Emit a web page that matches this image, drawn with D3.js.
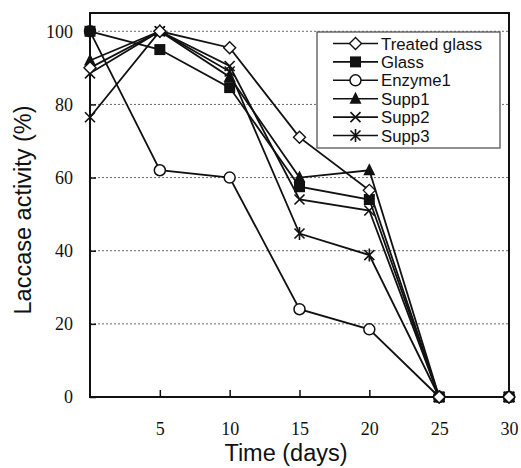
<!DOCTYPE html>
<html><head><meta charset="utf-8">
<script src="https://cdn.jsdelivr.net/npm/d3@7"></script>
<style>body{margin:0;background:#fff}</style>
</head><body>
<svg id="c" width="521" height="468"></svg>
<script>
const days = [0, 5, 10, 15, 20, 25, 30];
const seriesNames = ["Treated glass", "Glass", "Enzyme1", "Supp1", "Supp2", "Supp3"];
const treatedGlass = [90, 100, 95.5, 71, 56.5, 0, 0];
const glass = [100, 95, 84.6, 57.5, 54, 0, 0];
const enzyme1 = [100, 62, 60, 24, 18.5, 0, 0];
const supp1 = [92, 100, 87.5, 60, 62, 0, 0];
const supp2 = [88.5, 100, 90.5, 54, 51, 0, 0];
const supp3 = [76.5, 100, 89, 44.7, 38.8, 0, 0];
const yTicks = [0, 20, 40, 60, 80, 100];
const xTicks = [5, 10, 15, 20, 25, 30];
const markers = ["diamond", "square", "circle", "triangle", "x", "asterisk"];
const allValues = [treatedGlass, glass, enzyme1, supp1, supp2, supp3];

const svg = d3.select("#c");
const x = d3.scaleLinear().domain([0, 30]).range([90, 509]);
const y = d3.scaleLinear().domain([0, 105]).range([397, 13]);

// grid
svg.append("g").selectAll("line").data(yTicks.filter(d => d > 0)).join("line")
  .attr("x1", x(0)).attr("x2", x(30)).attr("y1", d => y(d)).attr("y2", d => y(d))
  .attr("stroke", "#444").attr("stroke-width", 0.8).attr("stroke-dasharray", "2,2");

// frame
svg.append("rect").attr("x", x(0)).attr("y", y(105)).attr("width", x(30) - x(0)).attr("height", y(0) - y(105))
  .attr("fill", "none").attr("stroke", "#111").attr("stroke-width", 2);

// axes
const yAxis = d3.axisLeft(y).tickValues(yTicks).tickSizeInner(-6).tickSizeOuter(0).tickPadding(17).tickFormat(d3.format("d"));
const gy = svg.append("g").attr("transform", `translate(${x(0)},0)`).call(yAxis);
gy.select(".domain").remove();
gy.selectAll("line").attr("stroke", "#111").attr("stroke-width", 1.5);
gy.selectAll("text").attr("font-family", "Liberation Serif, Times New Roman, serif").attr("font-size", 18).attr("fill", "#111");

const xAxis = d3.axisBottom(x).tickValues(xTicks).tickSizeInner(-7).tickSizeOuter(0).tickPadding(25);
const gx = svg.append("g").attr("transform", `translate(0,${y(0)})`).call(xAxis);
gx.select(".domain").remove();
gx.selectAll("line").attr("stroke", "#111").attr("stroke-width", 1.5);
gx.selectAll("text").attr("font-family", "Liberation Serif, Times New Roman, serif").attr("font-size", 18).attr("fill", "#111");

// titles
svg.append("text").attr("x", 286).attr("y", 461).attr("text-anchor", "middle")
  .attr("font-family", "Liberation Sans, Arial, sans-serif").attr("font-size", 23.5).attr("fill", "#111").text("Time (days)");
svg.append("text").attr("transform", `translate(31,${210}) rotate(-90)`).attr("text-anchor", "middle")
  .attr("font-family", "Liberation Sans, Arial, sans-serif").attr("font-size", 23.5).attr("fill", "#111").text("Laccase activity (%)");

function drawMarker(g, type, cx, cy) {
  const s = 5;
  if (type === "diamond") {
    g.append("path").attr("d", `M${cx},${cy - 6}L${cx + 6},${cy}L${cx},${cy + 6}L${cx - 6},${cy}Z`)
      .attr("fill", "#fff").attr("stroke", "#111").attr("stroke-width", 1.4);
  } else if (type === "square") {
    g.append("rect").attr("x", cx - 5.5).attr("y", cy - 5.5).attr("width", 11).attr("height", 11).attr("fill", "#111");
  } else if (type === "circle") {
    g.append("circle").attr("cx", cx).attr("cy", cy).attr("r", 5.5).attr("fill", "#fff").attr("stroke", "#111").attr("stroke-width", 1.5);
  } else if (type === "triangle") {
    g.append("path").attr("d", `M${cx},${cy - 7}L${cx + 6},${cy + 5}L${cx - 6},${cy + 5}Z`).attr("fill", "#111");
  } else if (type === "x") {
    g.append("path").attr("d", `M${cx - s},${cy - s}L${cx + s},${cy + s}M${cx - s},${cy + s}L${cx + s},${cy - s}`)
      .attr("stroke", "#111").attr("stroke-width", 1.6);
  } else if (type === "asterisk") {
    g.append("path").attr("d", `M${cx - s},${cy - s}L${cx + s},${cy + s}M${cx - s},${cy + s}L${cx + s},${cy - s}M${cx},${cy - 6.5}L${cx},${cy + 6.5}`)
      .attr("stroke", "#111").attr("stroke-width", 1.6);
  }
}

const line = d3.line().x((d, i) => x(days[i])).y(d => y(d));
const plot = svg.append("g");
const order = [2, 5, 4, 3, 1, 0];
order.forEach(k => {
  plot.append("path").datum(allValues[k]).attr("d", line).attr("fill", "none").attr("stroke", "#111").attr("stroke-width", 1.8);
});
order.forEach(k => {
  allValues[k].forEach((v, i) => drawMarker(plot, markers[k], x(days[i]), y(v)));
});

// legend
const lg = svg.append("g");
lg.append("rect").attr("x", 317).attr("y", 32).attr("width", 183).attr("height", 116)
  .attr("fill", "#fff").attr("stroke", "#555").attr("stroke-width", 1.3);
seriesNames.forEach((name, k) => {
  const ly = 43.5 + k * 18.4;
  lg.append("line").attr("x1", 333).attr("x2", 378).attr("y1", ly).attr("y2", ly).attr("stroke", "#111").attr("stroke-width", 1.6);
  drawMarker(lg, markers[k], 355.5, ly);
  lg.append("text").attr("x", 381).attr("y", ly + 6).attr("font-family", "Liberation Sans, Arial, sans-serif")
    .attr("font-size", 16.8).attr("fill", "#111").text(name);
});
</script>
</body></html>
